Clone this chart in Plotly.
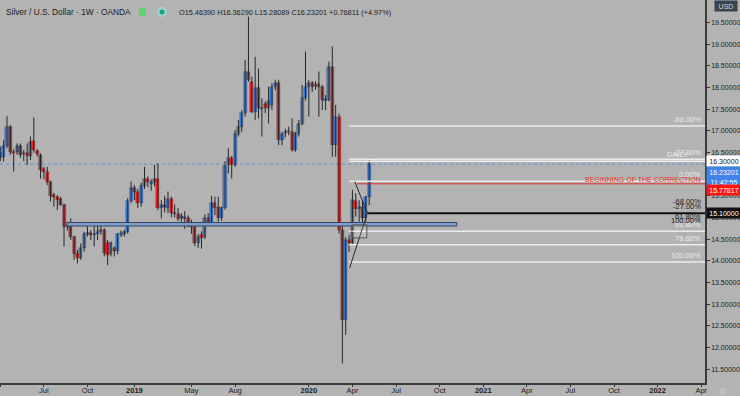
import plotly.graph_objects as go
import pandas as pd

# ---------------- data (weekly OANDA XAGUSD) ----------------
week_start = "2018-03-26"
opens = [16.55, 16.37, 16.40, 16.64, 17.10, 16.52, 16.51, 16.64, 16.46, 16.50,
         16.41, 16.76, 16.54, 16.44, 16.11, 16.04, 15.81, 15.52, 15.47, 15.42,
         15.29, 14.79, 14.80, 14.54, 14.16, 14.06, 14.29, 14.62, 14.64, 14.60,
         14.61, 14.67, 14.72, 14.40, 14.16, 14.30, 14.22, 14.60, 14.62, 14.66,
         15.37, 15.67, 15.60, 15.33, 15.72, 15.89, 15.77, 15.81, 15.90, 15.23,
         15.30, 15.22, 15.42, 15.10, 15.08, 14.98, 15.02, 14.98, 14.84, 14.77,
         14.40, 14.60, 14.55, 15.00, 14.88, 15.33, 15.25, 14.98, 15.21, 16.21,
         16.37, 16.21, 16.94, 17.10, 17.41, 18.37, 18.14, 17.44, 17.98, 17.50,
         17.61, 17.54, 17.60, 18.02, 18.10, 16.79, 16.95, 16.98, 16.98, 16.56,
         16.94, 17.17, 17.75, 18.02, 18.10, 18.03, 18.08, 18.02, 17.70, 17.71,
         18.47, 16.67, 17.33, 14.71, 12.63, 14.48, 14.40, 15.39, 15.19, 15.25,
         14.98, 15.46390]
highs = [16.62, 16.64, 16.79, 17.34, 17.14, 16.58, 16.71, 16.71, 16.56, 16.71,
         16.87, 17.31, 16.58, 16.48, 16.17, 16.17, 15.85, 15.57, 15.52, 15.48,
         15.32, 14.90, 14.98, 14.58, 14.25, 14.40, 14.67, 14.90, 14.71, 14.83,
         14.86, 14.83, 14.75, 14.48, 14.45, 14.33, 14.64, 14.70, 14.72, 15.45,
         15.83, 15.75, 15.66, 15.80, 16.17, 15.95, 15.88, 16.22, 16.25, 15.40,
         15.50, 15.60, 15.48, 15.30, 15.22, 15.10, 15.15, 15.05, 14.95, 14.84,
         14.62, 14.68, 15.08, 15.10, 15.50, 15.48, 15.48, 15.25, 16.30, 16.60,
         16.42, 17.02, 17.25, 17.48, 18.64, 19.64, 18.25, 18.71, 18.44, 17.75,
         17.68, 18.02, 18.10, 18.18, 18.18, 16.98, 17.05, 17.10, 17.29, 16.98,
         17.25, 18.06, 18.83, 18.18, 18.15, 18.15, 18.37, 18.06, 17.83, 18.60,
         18.95, 17.60, 17.40, 14.80, 14.55, 14.60, 15.64, 15.56, 15.40, 15.40,
         15.50, 16.36290]
lows = [16.30, 16.30, 16.29, 16.60, 16.45, 16.06, 16.45, 16.38, 16.30, 16.21,
        16.33, 16.50, 16.41, 15.90, 15.88, 15.75, 15.37, 15.25, 15.17, 15.27,
        14.33, 14.70, 14.48, 14.02, 13.94, 14.02, 14.21, 14.56, 14.48, 14.33,
        14.48, 14.60, 14.10, 13.90, 14.10, 14.10, 14.15, 14.55, 14.56, 14.63,
        15.33, 15.40, 15.22, 15.25, 15.66, 15.70, 15.62, 15.72, 15.17, 14.98,
        15.12, 15.10, 15.00, 15.00, 14.92, 14.90, 14.74, 14.78, 14.62, 14.34,
        14.30, 14.28, 14.50, 14.85, 14.84, 15.05, 14.90, 14.92, 15.18, 16.02,
        15.90, 16.17, 16.87, 16.98, 17.33, 18.14, 17.41, 17.25, 17.29, 16.87,
        17.41, 17.17, 17.48, 17.94, 16.67, 16.67, 16.85, 16.90, 16.52, 16.52,
        16.87, 17.13, 17.70, 17.33, 17.90, 17.95, 17.33, 17.48, 17.48, 17.68,
        16.40, 16.40, 14.63, 11.63, 12.29, 14.20, 14.38, 15.02, 14.90, 14.87,
        14.90, 15.28089]
closes = [16.37, 16.50, 16.64, 17.10, 16.51, 16.48, 16.64, 16.44, 16.50, 16.42,
          16.75, 16.56, 16.47, 16.10, 16.04, 15.81, 15.50, 15.47, 15.40, 15.30,
          14.79, 14.83, 14.54, 14.16, 14.06, 14.29, 14.63, 14.65, 14.60, 14.63,
          14.67, 14.72, 14.18, 14.14, 14.40, 14.22, 14.62, 14.64, 14.66, 15.37,
          15.67, 15.60, 15.33, 15.72, 15.89, 15.82, 15.81, 15.90, 15.23, 15.28,
          15.25, 15.42, 15.10, 15.07, 14.97, 15.03, 14.96, 14.84, 14.77, 14.40,
          14.56, 14.52, 15.00, 14.88, 15.33, 15.21, 14.98, 15.21, 16.19, 16.37,
          16.21, 16.94, 17.10, 17.41, 18.37, 18.18, 17.44, 17.98, 17.52, 17.54,
          17.54, 17.70, 18.02, 18.10, 16.79, 16.94, 16.98, 17.00, 16.56, 16.94,
          17.17, 17.75, 18.02, 18.10, 18.02, 18.07, 18.02, 17.71, 17.73, 18.47,
          16.67, 17.33, 14.71, 12.63, 14.48, 14.40, 15.40, 15.19, 15.25, 14.98,
          15.46390, 16.23201]

price_ticks = [11.5, 12.0, 12.5, 13.0, 13.5, 14.0, 14.5, 15.0, 15.5,
               16.0, 16.5, 17.0, 17.5, 18.0, 18.5, 19.0, 19.5]
time_tick_dates = ["2018-04-02", "2018-07-02", "2018-10-01", "2019-01-07",
                   "2019-05-06", "2019-08-05", "2020-01-06", "2020-04-06",
                   "2020-07-06", "2020-10-05", "2021-01-04", "2021-04-05",
                   "2021-07-05", "2021-10-04", "2022-01-03", "2022-04-04"]
time_tick_text = ["Apr", "Jul", "Oct", "<b>2019</b>", "May", "Aug", "<b>2020</b>",
                  "Apr", "Jul", "Oct", "<b>2021</b>", "Apr", "Jul", "Oct",
                  "<b>2022</b>", "Apr"]

# drawings
fib_zero, fib_hundred = 15.84, 13.97
fib_levels = [-0.68, -0.27, 0.0, 0.618, 0.786, 1.0]
fib_text = ["-68.00%", "-27.00%", "0.00%", "61.80%", "78.60%", "100.00%"]
small_fib_zero, small_fib_hundred = 15.04, 14.78
small_fib_levels = [-0.68, -0.27, 0.618, 1.0]
small_fib_text = ["-68.00%", "-27.00%", "61.80%", "100.00%"]
fib_start = "2020-03-30"
daily_level = 16.30
correction_level = 15.77817
correction_start = "2020-04-15"
support_level = 15.10
support_start = "2020-05-08"
zone_start, zone_end, zone_low, zone_high = "2018-08-19", "2020-11-10", 14.803, 14.884
last_price = 16.23201

# ---------------- figure ----------------
dates = list(pd.date_range(week_start, periods=len(opens), freq="7D"))
last = dates[-1]
x_left = last - pd.Timedelta(days=770.6)
x_right = last + pd.Timedelta(days=700.9)

BG = "#b3b3b3"
UP = "#3f84ea"
DN = "#ff1f1f"
WICK = "#262626"
WHITE = "#ececec"
FONT = "Liberation Sans Narrow, Liberation Sans, Arial"
BODY_W = 6.3 * 86400000  # body width in ms
MIN_BODY = 0.025

fig = go.Figure()

# wicks
wx, wy = [], []
for d, h, l in zip(dates, highs, lows):
    wx += [d, d, None]
    wy += [l, h, None]
fig.add_trace(go.Scatter(x=wx, y=wy, mode="lines", line=dict(color=WICK, width=1),
                         hoverinfo="skip", showlegend=False))

# bodies
for is_up, col in [(True, UP), (False, DN)]:
    bx, bb, bh = [], [], []
    for d, o, c in zip(dates, opens, closes):
        if (c >= o) == is_up:
            bx.append(d)
            bb.append(min(o, c))
            bh.append(max(abs(c - o), MIN_BODY))
    fig.add_trace(go.Bar(x=bx, y=bh, base=bb, width=BODY_W,
                         marker=dict(color=col, line=dict(color="#333333", width=0.4)),
                         hoverinfo="skip", showlegend=False))

shapes = []
shapes.append(dict(type="line", xref="paper", x0=0, x1=1, yref="y", y0=last_price, y1=last_price,
                   line=dict(color="#5d8fd3", width=1, dash="dot"), layer="below"))
shapes.append(dict(type="rect", xref="x", yref="y", x0=zone_start, x1=zone_end,
                   y0=zone_low, y1=zone_high, fillcolor="#7f9fcf",
                   line=dict(color="#39465c", width=1)))


def fib_price(z, h, lv):
    return z - (z - h) * lv


for lv in fib_levels:
    p = fib_price(fib_zero, fib_hundred, lv)
    shapes.append(dict(type="line", xref="x", yref="y", x0=fib_start, x1=x_right,
                       y0=p, y1=p, line=dict(color=WHITE, width=1.5)))
shapes.append(dict(type="line", xref="x", yref="y", x0=fib_start, x1=x_right,
                   y0=daily_level, y1=daily_level, line=dict(color=WHITE, width=1.5)))
shapes.append(dict(type="line", xref="x", yref="y", x0=correction_start, x1=x_right,
                   y0=correction_level, y1=correction_level, line=dict(color="#e8302a", width=1)))
shapes.append(dict(type="line", xref="x", yref="y", x0=support_start, x1=x_right,
                   y0=support_level, y1=support_level, line=dict(color="#111111", width=2)))
shapes.append(dict(type="line", xref="x", yref="y", x0="2020-03-31", y0=13.83,
                   x1="2020-05-08", y1=15.134, line=dict(color="#2a2a2a", width=1)))
shapes.append(dict(type="line", xref="x", yref="y", x0="2020-04-11", y0=15.827,
                   x1="2020-05-06", y1=15.134, line=dict(color="#2a2a2a", width=1)))
shapes.append(dict(type="rect", xref="x", yref="y", x0="2020-04-05", x1="2020-05-06",
                   y0=14.53, y1=14.83, fillcolor="rgba(255,255,255,0.12)",
                   line=dict(color="#555555", width=1)))
shapes.append(dict(type="rect", xref="paper", yref="paper", x0=139/705, x1=146/705,
                   y0=1-16/383, y1=1-8/383, fillcolor="#5fd36f", line=dict(width=0)))
shapes.append(dict(type="circle", xref="paper", yref="paper", x0=157/705, x1=167/705,
                   y0=1-17/383, y1=1-7/383, fillcolor="#9fd4cc", line=dict(width=0)))
shapes.append(dict(type="circle", xref="paper", yref="paper", x0=159.5/705, x1=164.5/705,
                   y0=1-14.5/383, y1=1-9.5/383, fillcolor="#14a08a", line=dict(width=0)))

ann = []
ann.append(dict(text="Silver / U.S. Dollar · 1W · OANDA", xref="paper", yref="paper",
                x=4/705, y=1-12/383, xanchor="left", yanchor="middle", showarrow=False,
                font=dict(size=8.3, color="#1c1c1c", family=FONT)))
ann.append(dict(text="O15.46390 H16.36290 L15.28089 C16.23201 +0.76811 (+4.97%)",
                xref="paper", yref="paper", x=177/705, y=1-12/383, xanchor="left",
                yanchor="middle", showarrow=False,
                font=dict(size=7.3, color="#1c1c1c", family=FONT)))
for lv, t in zip(fib_levels, fib_text):
    p = fib_price(fib_zero, fib_hundred, lv)
    ann.append(dict(text=t, xref="paper", yref="y", x=703/705, y=p, xanchor="right",
                    yanchor="bottom", yshift=0, showarrow=False,
                    font=dict(size=7.5, color=WHITE, family=FONT)))
for lv, t in zip(small_fib_levels, small_fib_text):
    p = fib_price(small_fib_zero, small_fib_hundred, lv)
    ann.append(dict(text=t, xref="paper", yref="y", x=703/705, y=p, xanchor="right",
                    yanchor="bottom", yshift=0, showarrow=False,
                    font=dict(size=7.5, color="#1a1a1a", family=FONT)))
ann.append(dict(text="DAILY", xref="paper", yref="y", x=690/705, y=daily_level,
                xanchor="right", yanchor="bottom", showarrow=False,
                font=dict(size=7.5, color=WHITE, family=FONT)))
ann.append(dict(text="BEGINNING OF THE CORRECTION", xref="paper", yref="y", x=703/705,
                y=correction_level, xanchor="right", yanchor="bottom", yshift=-1,
                showarrow=False, font=dict(size=7, color="#e8302a", family=FONT)))


def axis_box(text, y, bg, fg, yshift=0):
    return dict(text=text, xref="paper", yref="y", x=1, y=y, xanchor="left",
                yanchor="middle", xshift=1, yshift=yshift, showarrow=False,
                bgcolor=bg, width=33, height=9, borderpad=0.5, align="center",
                font=dict(size=7, color=fg, family=FONT))


ann.append(axis_box("16.30000", daily_level, "#ffffff", "#222222"))
ann.append(axis_box("16.23201", last_price, UP, "#ffffff", yshift=-8))
ann.append(axis_box("11:42:55", last_price, UP, "#ffffff", yshift=-17.5))
ann.append(axis_box("15.77817", correction_level, "#ff1414", "#ffffff", yshift=-6.5))
ann.append(axis_box("15.10000", support_level, "#111111", "#ffffff"))
ann.append(dict(text="USD", xref="paper", yref="paper", x=726/705, y=1-6/383,
                xanchor="center", yanchor="middle", showarrow=False, bgcolor="#3a4350",
                width=20, height=8, font=dict(size=7, color="#d8d8d8", family=FONT)))
ann.append(dict(text="⚙", xref="paper", yref="paper", x=722/705, y=-8/383,
                xanchor="center", yanchor="middle", showarrow=False,
                font=dict(size=10, color="#c8c8c8", family=FONT)))

fig.update_layout(
    width=740, height=396,
    margin=dict(l=0, r=35, t=0, b=13, pad=0, autoexpand=False),
    paper_bgcolor=BG, plot_bgcolor=BG,
    barmode="overlay", bargap=0,
    shapes=shapes, annotations=ann,
    showlegend=False, hovermode=False,
    xaxis=dict(type="date", range=[x_left, x_right],
               tickmode="array", tickvals=time_tick_dates, ticktext=time_tick_text,
               ticks="outside", ticklen=2, tickcolor="#333333", ticklabelstandoff=-3,
               tickfont=dict(size=7.5, color="#1c1c1c", family=FONT),
               showgrid=False, zeroline=False, showline=True, linecolor="#3c3c3c",
               linewidth=1.5, automargin=False),
    yaxis=dict(side="right", range=[11.178, 20.023], tickmode="array",
               tickvals=price_ticks, ticktext=[f"{v:.5f}" for v in price_ticks],
               ticks="outside", ticklen=3, tickcolor="#333333",
               tickfont=dict(size=7, color="#1c1c1c", family=FONT),
               showgrid=False, zeroline=False, showline=True, linecolor="#3c3c3c",
               linewidth=1.5, automargin=False),
)

fig.write_html("out.html", config=dict(displayModeBar=False),
               post_script="document.body.style.margin='0';document.body.style.background='#b3b3b3';")
